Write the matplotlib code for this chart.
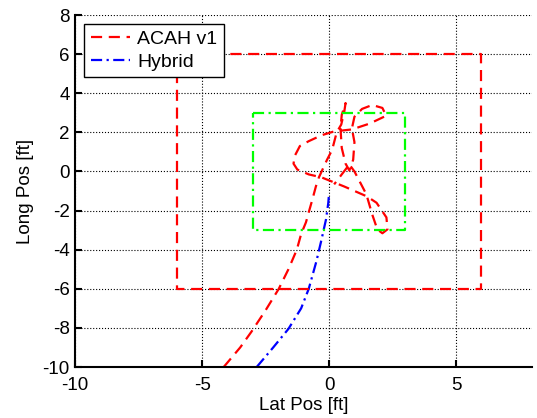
import matplotlib.pyplot as plt

plt.rcParams['font.family'] = ['Liberation Sans', 'DejaVu Sans']
plt.rcParams['axes.unicode_minus'] = False

# ACAH v1 trajectory (lat, long) [ft]
acah_x = [-4.15, -3.5, -3.06, -2.5, -1.98, -1.6, -1.27, -1.1, -0.91, -0.79, -0.65,
          -0.52, -0.4, -0.08, 0.12, 0.3, 0.48, 0.6, 0.65,
          0.5, 0.45, 0.5, 0.65, 0.8,
          0.95, 1.0, 0.9, 1.0, 1.3, 1.7, 2.1, 2.25,
          1.6, 0.9, 0.2, -0.3, -0.8, -1.15, -1.35, -1.4, -1.25,
          -0.8, -0.3, 0.6, 1.5, 1.87, 2.26, 2.3,
          2.1, 1.9, 1.7, 1.47, 1.0, 0.8, 0.2]
acah_y = [-10.0, -9.0, -8.2, -7.1, -6.0, -5.0, -4.0, -3.2, -2.6, -2.04, -1.4,
          -0.77, -0.3, 0.6, 1.1, 2.0, 2.4, 3.06, 3.5,
          2.9, 2.2, 1.2, 0.4, 0.05,
          0.6, 1.5, 2.2, 2.8, 3.2, 3.4, 3.25, 2.85,
          2.45, 2.15, 2.05, 1.85, 1.55, 1.3, 0.8, 0.4, 0.1,
          -0.15, -0.3, -0.77, -1.28, -1.6, -2.35, -2.96,
          -3.16, -2.96, -2.2, -1.17, 0.0, 0.36, -0.66]

# Hybrid trajectory
hyb_x = [-2.85, -2.2, -1.6, -1.1, -0.8, -0.5, -0.3, -0.12, -0.03, 0.0]
hyb_y = [-10.0, -9.0, -8.05, -7.0, -6.0, -4.6, -3.5, -2.45, -1.6, -1.1]

# boundary boxes
outer = 6
inner = 3

fig = plt.figure(figsize=(5.37, 4.18), dpi=100)
ax = fig.add_axes([0.14, 0.122, 0.851, 0.842])

ax.plot(acah_x, acah_y, '--', color='red', lw=1.6, dashes=(5, 3), label='ACAH v1')
ax.plot(hyb_x, hyb_y, '-.', color='blue', lw=1.6, dashes=(5, 2, 1, 2), label='Hybrid')
ax.plot([-outer, outer, outer, -outer, -outer], [outer, outer, -outer, -outer, outer],
        '--', color='red', lw=1.6, dashes=(5, 3))
ax.plot([-inner, inner, inner, -inner, -inner], [inner, inner, -inner, -inner, inner],
        '-.', color='#00ff00', lw=1.6, dashes=(5, 2, 1, 2))

ax.set_xlim(-10, 8)
ax.set_ylim(-10, 8)
ax.set_xticks([-10, -5, 0, 5])
ax.set_yticks(range(-10, 9, 2))
ax.grid(True, color='black', linestyle=':', linewidth=0.8)
ax.tick_params(direction='in', labelsize=13.5, width=1.5, length=5)
ax.tick_params(axis='x', pad=7)
ax.tick_params(axis='y', pad=4)
ax.spines['top'].set_visible(False)
ax.spines['right'].set_visible(False)
ax.spines['left'].set_linewidth(1.5)
ax.spines['bottom'].set_linewidth(1.5)

ax.set_xlabel('Lat Pos [ft]', fontsize=13.5, labelpad=2)
ax.set_ylabel('Long Pos [ft]', fontsize=13.5, labelpad=6)

leg = ax.legend(loc='upper left', fontsize=14, fancybox=False, framealpha=1,
                edgecolor='black', borderaxespad=0.45, handlelength=2.0,
                handletextpad=0.4, borderpad=0.35, labelspacing=0.25)
leg.get_frame().set_linewidth(1.0)

fig.savefig('out.png', dpi=100)
